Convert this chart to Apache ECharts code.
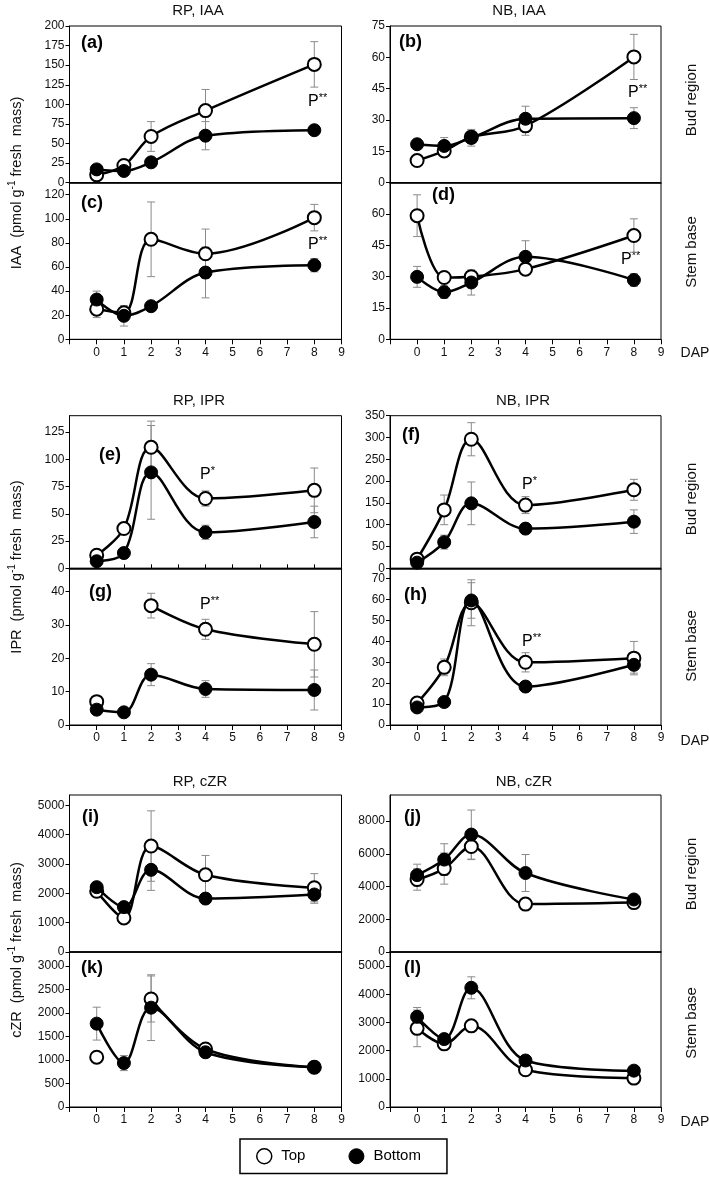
<!DOCTYPE html>
<html><head><meta charset="utf-8">
<script src="https://cdn.jsdelivr.net/npm/echarts/dist/echarts.min.js"></script>
<style>html,body{margin:0;padding:0;background:#fff}#c{width:709px;height:1178px}</style>
</head><body><div id="c"></div>
<script>
// ---------- DATA ----------
const days = [0, 1, 2, 4, 8];
const xTickLabels = ['0','1','2','3','4','5','6','7','8','9'];

// (a) RP, IAA, bud region
const aTop = [10, 22, 59, 92, 151];
const aBottom = [17, 15, 26, 60, 67];
const aTopErr = [2, 3, 19, 27, 29];
const aBottomErr = [2, 2, 4, 18, 5];
// (b) NB, IAA, bud region
const bTop = [10.6, 15.2, 21.8, 27.2, 60.2];
const bBottom = [18.4, 17.6, 21.5, 30.6, 30.9];
const bTopErr = [1.5, 2.5, 3, 4.5, 10.8];
const bBottomErr = [2.5, 4, 4, 6, 5];
// (c) RP, IAA, stem base
const cTop = [25, 22, 83, 71, 101];
const cBottom = [33, 19.5, 27.5, 55.4, 61.5];
const cTopErr = [7, 3, 31, 20.5, 11];
const cBottomErr = [7, 8.5, 3, 21, 5.5];
// (d) NB, IAA, stem base
const dTop = [59.2, 29.6, 30, 33.6, 49.7];
const dBottom = [29.9, 22.6, 27.2, 39.5, 28.4];
const dTopErr = [10, 2, 2, 2, 8];
const dBottomErr = [5, 3, 6, 7.7, 3];
// (e) RP, IPR, bud region
const eTop = [12, 36.5, 111, 64, 71.5];
const eBottom = [6.5, 14, 88, 33, 42.5];
const eTopErr = [2, 2, 24, 7, 20.5];
const eBottomErr = [2, 2, 43, 6.5, 14.5];
// (f) NB, IPR, bud region
const fTop = [21, 134, 296, 145, 180];
const fBottom = [13, 60, 149, 91, 107];
const fTopErr = [5, 34, 38, 19.5, 24];
const fBottomErr = [4, 16, 49, 7, 27];
// (g) RP, IPR, stem base
const gTop = [7, null, 35.8, 28.7, 24.2];
const gBottom = [4.6, 3.8, 15.1, 10.8, 10.5];
const gTopErr = [1, 0, 3.7, 3, 9.8];
const gBottomErr = [1, 0.5, 3.3, 2.5, 6];
// (h) NB, IPR, stem base
const hTop = [10.5, 27.6, 58.5, 30, 32];
const hBottom = [8.4, 11, 59.6, 18.4, 28.8];
const hTopErr = [1.5, 4, 11, 4.6, 8];
const hBottomErr = [1, 1, 8.5, 1.5, 4];
// (i) RP, cZR, bud region
const iTop = [2070, 1160, 3610, 2630, 2190];
const iBottom = [2210, 1530, 2800, 1820, 1960];
const iTopErr = [100, 80, 1200, 660, 480];
const iBottomErr = [100, 150, 700, 100, 300];
// (j) NB, cZR, bud region
const jTop = [4430, 5100, 6450, 2930, 3020];
const jBottom = [4700, 5650, 7180, 4830, 3210];
const jTopErr = [650, 950, 800, 150, 100];
const jBottomErr = [670, 970, 1500, 1130, 150];
// (k) RP, cZR, stem base
const kTop = [1060, null, 2300, 1235, 845];
const kBottom = [1775, 935, 2115, 1165, 845];
const kTopErr = [0, 0, 490, 50, 50];
const kBottomErr = [350, 160, 700, 50, 60];
// (l) NB, cZR, stem base
const lTop = [2790, 2240, 2880, 1320, 1025];
const lBottom = [3200, 2410, 4230, 1650, 1290];
const lTopErr = [650, 80, 100, 60, 60];
const lBottomErr = [330, 80, 390, 60, 60];

const columnTitles = ['RP, IAA', 'NB, IAA', 'RP, IPR', 'NB, IPR', 'RP, cZR', 'NB, cZR'];
const panelLetters = ['(a)','(b)','(c)','(d)','(e)','(f)','(g)','(h)','(i)','(j)','(k)','(l)'];
const yAxisTitles = ['IAA', 'IPR', 'cZR'];
const regionLabels = ['Bud region', 'Stem base'];
const legendNames = ['Top', 'Bottom'];
const sigLabels = ['P**','P**','P**','P**','P*','P*','P**','P**'];

// ---------- LAYOUT ----------
const FONT = 'Liberation Sans, Arial, sans-serif';
const colLeft = [69.5, 390], colWidth = [272, 271];
const panels = [
  {top:aTop,bottom:aBottom,te:aTopErr,be:aBottomErr,col:0,y:26,h:156.7,max:200,int:25,low:false,showMax:true,tk:false},
  {top:bTop,bottom:bBottom,te:bTopErr,be:bBottomErr,col:1,y:26,h:156.7,max:75,int:15,low:false,showMax:true,tk:false},
  {top:cTop,bottom:cBottom,te:cTopErr,be:cBottomErr,col:0,y:182.7,h:156.6,max:130,int:20,low:true,showMax:false},
  {top:dTop,bottom:dBottom,te:dTopErr,be:dBottomErr,col:1,y:182.7,h:156.6,max:75,int:15,low:true,showMax:false},
  {top:eTop,bottom:eBottom,te:eTopErr,be:eBottomErr,col:0,y:415.7,h:152.6,max:140,int:25,low:false,showMax:false,tk:true},
  {top:fTop,bottom:fBottom,te:fTopErr,be:fBottomErr,col:1,y:415.7,h:152.6,max:350,int:50,low:false,showMax:true,tk:false},
  {top:gTop,bottom:gBottom,te:gTopErr,be:gBottomErr,col:0,y:568.3,h:156.7,max:47,int:10,low:true,showMax:false},
  {top:hTop,bottom:hBottom,te:hTopErr,be:hBottomErr,col:1,y:568.3,h:156.7,max:75,int:10,low:true,showMax:false},
  {top:iTop,bottom:iBottom,te:iTopErr,be:iBottomErr,col:0,y:795,h:157,max:5350,int:1000,low:false,showMax:false,tk:false},
  {top:jTop,bottom:jBottom,te:jTopErr,be:jBottomErr,col:1,y:795,h:157,max:9600,int:2000,low:false,showMax:false,tk:false},
  {top:kTop,bottom:kBottom,te:kTopErr,be:kBottomErr,col:0,y:952,h:155,max:3300,int:500,low:true,showMax:false},
  {top:lTop,bottom:lBottom,te:lTopErr,be:lBottomErr,col:1,y:952,h:155,max:5500,int:1000,low:true,showMax:false}
];

function errRender(params, api) {
  const x = api.value(0), y = api.value(1), e = api.value(2);
  if (!e) return null;
  const hi = api.coord([x, y + e]), lo = api.coord([x, y - e]);
  const cw = 4;
  const style = {stroke: '#8a8a8a', lineWidth: 1};
  return {type: 'group', children: [
    {type: 'line', shape: {x1: hi[0], y1: hi[1], x2: lo[0], y2: lo[1]}, style},
    {type: 'line', shape: {x1: hi[0] - cw, y1: hi[1], x2: hi[0] + cw, y2: hi[1]}, style},
    {type: 'line', shape: {x1: lo[0] - cw, y1: lo[1], x2: lo[0] + cw, y2: lo[1]}, style}
  ]};
}

const grid = [], xAxis = [], yAxis = [], series = [];
panels.forEach((p, i) => {
  grid.push({left: colLeft[p.col], top: p.y, width: colWidth[p.col], height: p.h,
    show: true, borderColor: '#000', borderWidth: 1, backgroundColor: 'transparent'});
  xAxis.push({gridIndex: i, type: 'value', min: -1, max: 9, interval: 1,
    axisLine: {show: true, onZero: false, lineStyle: {color: '#000', width: p.low ? 1 : 1.5}},
    axisTick: {show: p.low || p.tk, inside: !p.low, length: p.low ? 5 : 4, lineStyle: {color: '#000'}},
    axisLabel: {show: p.low, margin: 7, fontSize: 12, color: '#111', fontFamily: FONT,
      formatter: v => (v < 0 ? '' : xTickLabels[v])},
    splitLine: {show: false}});
  yAxis.push({gridIndex: i, type: 'value', min: 0, max: p.max, interval: p.int,
    axisLine: {show: true, onZero: false, lineStyle: {color: '#000', width: 1}},
    axisTick: {show: true, length: 4, lineStyle: {color: '#000'}},
    axisLabel: {fontSize: 12, color: '#111', margin: 5, fontFamily: FONT, showMaxLabel: p.showMax,
      formatter: v => (v % p.int === 0 ? String(v) : '')},
    splitLine: {show: false}});
  const topErrData = [], botErrData = [];
  days.forEach((d, k) => {
    if (p.top[k] != null) topErrData.push([d, p.top[k], p.te[k]]);
    if (p.bottom[k] != null) botErrData.push([d, p.bottom[k], p.be[k]]);
  });
  [topErrData, botErrData].forEach(dat => series.push({
    type: 'custom', xAxisIndex: i, yAxisIndex: i, renderItem: errRender, data: dat,
    encode: {x: 0, y: 1}, z: 1, silent: true, clip: false
  }));
  series.push({name: legendNames[0], type: 'line', xAxisIndex: i, yAxisIndex: i,
    data: days.map((d, k) => [d, p.top[k]]), smooth: 0.35, connectNulls: false,
    symbol: 'circle', symbolSize: 13, showAllSymbol: true,
    itemStyle: {color: '#fff', borderColor: '#000', borderWidth: 2},
    lineStyle: {color: '#000', width: 2.5}, z: 3});
  series.push({name: legendNames[1], type: 'line', xAxisIndex: i, yAxisIndex: i,
    data: days.map((d, k) => [d, p.bottom[k]]), smooth: 0.35, connectNulls: false,
    symbol: 'circle', symbolSize: 13, showAllSymbol: true,
    itemStyle: {color: '#000', borderColor: '#000', borderWidth: 1},
    lineStyle: {color: '#000', width: 2.5}, z: 4});
});

// ---------- TEXT ----------
const graphic = [];
const titlePos = [[198,11],[519,11],[199,401],[523,401],[200,782],[524,782]];
titlePos.forEach((q, k) => graphic.push({type: 'text', x: q[0], y: q[1],
  style: {text: columnTitles[k], font: '15px ' + FONT, fill: '#111', align: 'center', verticalAlign: 'middle'}}));
const letterPos = [[81,43],[399,42],[81,203],[432,195],[99,455],[402,435],[89,592],[404,595],[82,817],[404,817],[81,968],[404,968]];
letterPos.forEach((q, k) => graphic.push({type: 'text', x: q[0], y: q[1],
  style: {text: panelLetters[k], font: 'bold 18px ' + FONT, fill: '#000', align: 'left', verticalAlign: 'middle'}}));
const sigPos = [[308,102],[628,93],[308,245],[621,260],[200,475],[522,485],[200,605],[522,642]];
sigPos.forEach((q, k) => graphic.push({type: 'text', x: q[0], y: q[1],
  style: {text: '{p|P}{s|' + sigLabels[k].slice(1) + '}', align: 'left', verticalAlign: 'middle',
    rich: {p: {fontSize: 16, fontFamily: FONT, fill: '#000', lineHeight: 20},
           s: {fontSize: 11, fontFamily: FONT, fill: '#000', verticalAlign: 'top', lineHeight: 12}}}}));
const yTitleY = [183, 567, 950];
yTitleY.forEach((yy, k) => graphic.push({type: 'text', x: 17, y: yy, rotation: Math.PI / 2,
  style: {text: '{a|' + yAxisTitles[k] + '  (pmol g}{s|-1}{a| fresh  mass)}', align: 'center', verticalAlign: 'middle',
    rich: {a: {fontSize: 14.5, fontFamily: FONT, fill: '#111', lineHeight: 20},
           s: {fontSize: 10, fontFamily: FONT, fill: '#111', verticalAlign: 'top', lineHeight: 12}}}}));
const regionPos = [[692,100,0],[692,252,1],[692,499,0],[692,646,1],[692,874,0],[692,1023,1]];
regionPos.forEach(q => graphic.push({type: 'text', x: q[0], y: q[1], rotation: Math.PI / 2,
  style: {text: regionLabels[q[2]], font: '15px ' + FONT, fill: '#111', align: 'center', verticalAlign: 'middle'}}));
[353, 741, 1122].forEach(yy => graphic.push({type: 'text', x: 695, y: yy,
  style: {text: 'DAP', font: '14px ' + FONT, fill: '#111', align: 'center', verticalAlign: 'middle'}}));

const chart = echarts.init(document.getElementById('c'), null, {renderer: 'canvas'});
chart.setOption({
  animation: false,
  backgroundColor: '#fff',
  grid, xAxis, yAxis, series, graphic,
  legend: {
    left: 240, top: 1139, selectedMode: false,
    data: [
      {name: legendNames[0], icon: 'circle', itemStyle: {color: '#fff', borderColor: '#000', borderWidth: 1.5}},
      {name: legendNames[1], icon: 'circle', itemStyle: {color: '#000', borderColor: '#000', borderWidth: 1}}
    ],
    itemWidth: 24, itemHeight: 15, itemGap: 43,
    textStyle: {fontSize: 15, color: '#000', fontFamily: FONT},
    borderColor: '#000', borderWidth: 1.5, padding: [9, 26, 9, 16]
  }
});
</script></body></html>
